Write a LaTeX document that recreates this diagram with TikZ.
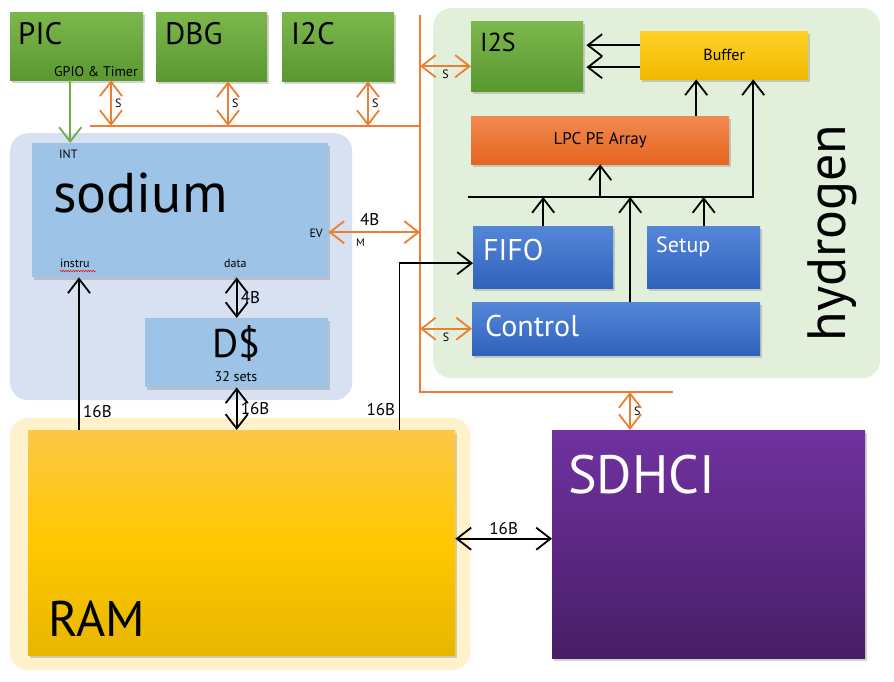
\documentclass[tikz,border=0pt]{standalone}
\usepackage{fontspec}
\setmainfont{PT Sans}
\usetikzlibrary{arrows.meta,shadows,decorations.pathmorphing}

\definecolor{busorange}{RGB}{237,125,49}
\definecolor{greenT}{RGB}{124,183,76}
\definecolor{greenB}{RGB}{90,152,48}
\definecolor{blueT}{RGB}{84,134,216}
\definecolor{blueB}{RGB}{48,98,188}
\definecolor{sodbg}{RGB}{215,225,242}
\definecolor{sodfill}{RGB}{157,195,230}
\definecolor{hydbg}{RGB}{226,239,218}
\definecolor{rambg}{RGB}{254,242,204}
\definecolor{bufT}{RGB}{255,210,40}
\definecolor{bufB}{RGB}{240,184,0}
\definecolor{lpcT}{RGB}{241,138,80}
\definecolor{lpcB}{RGB}{230,100,30}
\definecolor{ramT}{RGB}{252,200,70}
\definecolor{ramM}{RGB}{255,200,0}
\definecolor{ramB}{RGB}{232,182,0}
\definecolor{sdT}{RGB}{112,50,160}
\definecolor{sdB}{RGB}{72,30,102}
\definecolor{intgreen}{RGB}{112,173,71}

\newcommand\fsz[1]{\fontsize{#1}{#1}\selectfont}

\tikzset{
  barb/.tip={Straight Barb[length=11pt,width=17pt,scale=1.3]},
  box/.style={rectangle, anchor=north west, inner sep=0pt,
    drop shadow={opacity=0.35,shadow xshift=1.5pt,shadow yshift=-2.5pt}},
  region/.style={rectangle, anchor=north west, rounded corners=18pt, inner sep=0pt},
  greenbox/.style={box, top color=greenT, bottom color=greenB},
  bluebox/.style={box, top color=blueT, bottom color=blueB},
  txt/.style={anchor=base west, inner sep=0pt},
  slabel/.style={black, font=\fsz{12}},
  obus/.style={busorange, line width=1.8pt},
  olink/.style={busorange, line width=1.8pt, barb-barb},
  blink/.style={black, line width=1.8pt, -barb},
  bblink/.style={black, line width=1.8pt, barb-barb},
}

\begin{document}
\begin{tikzpicture}[x=1pt,y=-1pt]
\useasboundingbox (0,0) rectangle (894,682);
% regions
\node[region, fill=sodbg, minimum width=342pt, minimum height=267pt] (sodreg) at (10,133) {};
\node[region, fill=hydbg, minimum width=447pt, minimum height=370pt] (hydreg) at (433,8) {};
\node[region, fill=rambg, minimum width=460pt, minimum height=252pt] (ramreg) at (10,418) {};

% boxes
\node[greenbox, minimum width=133pt, minimum height=68pt] (pic) at (10,12) {};
\node[greenbox, minimum width=111pt, minimum height=69pt] (dbg) at (156,12) {};
\node[greenbox, minimum width=112pt, minimum height=69pt] (i2c) at (282,12) {};
\node[greenbox, minimum width=112pt, minimum height=70pt] (i2s) at (471,21) {};
\node[box, top color=bufT, bottom color=bufB, minimum width=168pt, minimum height=48pt, font=\fsz{16}] (buffer) at (640,31) {Buffer};
\node[box, top color=lpcT, bottom color=lpcB, minimum width=258pt, minimum height=48pt, font=\fsz{17}] (lpc) at (471,116) {LPC PE Array};
\node[bluebox, minimum width=140pt, minimum height=62pt] (fifo) at (473,226) {};
\node[bluebox, minimum width=113pt, minimum height=62pt] (setup) at (647,226) {};
\node[bluebox, minimum width=288pt, minimum height=53pt] (control) at (472,302) {};
\node[box, fill=sodfill, minimum width=296pt, minimum height=134pt] (sodium) at (32,143) {};
\node[box, fill=sodfill, minimum width=183pt, minimum height=69pt] (dcache) at (145,318) {};
\node[box, top color=ramT, bottom color=ramB, middle color=ramM, minimum width=427pt, minimum height=225pt] (ram) at (28,430) {};
\node[box, top color=sdT, bottom color=sdB, minimum width=313pt, minimum height=228pt] (sdhci) at (552,430) {};

% texts
\node[txt, font=\fsz{31}] (pictxt) at (18,45) {PIC};
\node[txt, font=\fsz{31}] (dbgtxt) at (165,45) {DBG};
\node[txt, font=\fsz{31}] (i2ctxt) at (291,45) {I2C};
\node[txt, anchor=base east, font=\fsz{14}] (gpiotxt) at (138,77) {GPIO \& Timer};
\node[txt, font=\fsz{26}] (i2stxt) at (480,52) {I2S};
\node[txt, font=\fsz{30}, white] (fifotxt) at (483,260) {FIFO};
\node[txt, font=\fsz{22}, white] (setuptxt) at (656,252) {Setup};
\node[txt, font=\fsz{30}, white] (controltxt) at (485,336) {Control};
\node[txt, font=\fsz{12}] (inttxt) at (59,158) {INT};
\node[txt, font=\fsz{56}] (sodiumtxt) at (53,212) {sodium};
\node[txt, anchor=base east, font=\fsz{12}] (evtxt) at (323,237) {EV};
\node[txt, font=\fsz{12}] (instrutxt) at (60,267) {instru};
\node[txt, font=\fsz{12}] (datatxt) at (224,267) {data};
\node[txt, anchor=base, font=\fsz{40}] (dcachetxt) at (236,357) {D\$};
\node[txt, anchor=base, font=\fsz{14}] (setstxt) at (236,381) {32 sets};
\node[txt, font=\fsz{54}, white] (sdhcitxt) at (568,493) {SDHCI};
\node[txt, font=\fsz{50}] (ramtxt) at (48,636) {RAM};
\node[rotate=90, font=\fsz{54}] (hydtxt) at (832,233) {hydrogen};
\draw[red, line width=0.5pt, decorate, decoration={snake, amplitude=0.7pt, segment length=2.5pt}] (60,271) -- (96,271);

% orange bus
\coordinate (busL) at (90,126);
\coordinate (busT) at (420,15);
\coordinate (busB) at (420,392);
\coordinate (busR) at (673,392);
\draw[obus] (busL) -- (busL -| busT);
\draw[obus] (busT) -- (busB) -- (busR);
\coordinate (s1) at (111,126);
\coordinate (s2) at (228,126);
\coordinate (s3) at (368,126);
\coordinate (s4) at (630,392);
\draw[olink] (pic.south -| s1) -- (s1) node[midway, right, slabel] {S};
\draw[olink] (dbg.south -| s2) -- (s2) node[midway, right, slabel] {S};
\draw[olink] (i2c.south -| s3) -- (s3) node[midway, right, slabel] {S};
\draw[olink] ([yshift=-10pt]i2s.west -| busT) -- ([yshift=-10pt]i2s.west) node[midway, below, slabel] {S};
\draw[olink] (control.west -| busT) -- (control.west) node[midway, below, slabel] {S};
\draw[olink] (s4) -- (s4 |- sdhci.north) node[midway, right, slabel] {S};
\draw[olink] ([yshift=-22pt]sodium.east) -- ([yshift=-22pt]sodium.east -| busT)
  node[pos=0.45, above=2pt, font=\fsz{17}, black] {4B}
  node[pos=0.35, below=2pt, font=\fsz{11}, black] {M};

% green interrupt
\draw[intgreen, line width=1.8pt, -barb] ([xshift=-6.5pt]pic.south) -- ([xshift=-6.5pt]pic.south |- sodium.north);

% black links
\draw[bblink] (sodium.south -| dcache.north) -- (dcache.north) node[midway, right, font=\fsz{17}] {4B};
\draw[bblink] (dcache.south) -- (dcache.south |- ram.north) node[midway, right, font=\fsz{17}] {16B};
\draw[blink] ([xshift=47pt]sodium.south west |- ram.north) -- ([xshift=47pt]sodium.south west)
  node[pos=0.12, right, font=\fsz{17}] {16B};
\draw[blink] ([xshift=-56pt]ram.north east) |- ([yshift=-6pt]fifo.west)
  node[pos=0.06, left, font=\fsz{17}] {16B};
\draw[bblink] ([yshift=4pt]ram.east) -- ([yshift=4pt]ram.east -| sdhci.west) node[midway, above, font=\fsz{17}] {16B};
\draw[blink, shorten >=3pt] ([yshift=10pt]buffer.west) -- ([yshift=10pt]buffer.west -| i2s.east);
\draw[blink, shorten >=3pt] ([yshift=-12pt]buffer.west) -- ([yshift=-12pt]buffer.west -| i2s.east);
\draw[blink] ([xshift=-28pt]buffer.south |- lpc.north) -- ([xshift=-28pt]buffer.south);
\coordinate (hubL) at (468,197);
\draw[blink] (hubL) -| ([xshift=29pt]buffer.south);
\draw[blink] (lpc.south |- hubL) -- (lpc.south);
\draw[blink] (fifo.north) -- (fifo.north |- hubL);
\draw[blink] (setup.north) -- (setup.north |- hubL);
\draw[blink] ([xshift=14pt]control.north) -- ([xshift=14pt]control.north |- hubL);
\end{tikzpicture}
\end{document}
